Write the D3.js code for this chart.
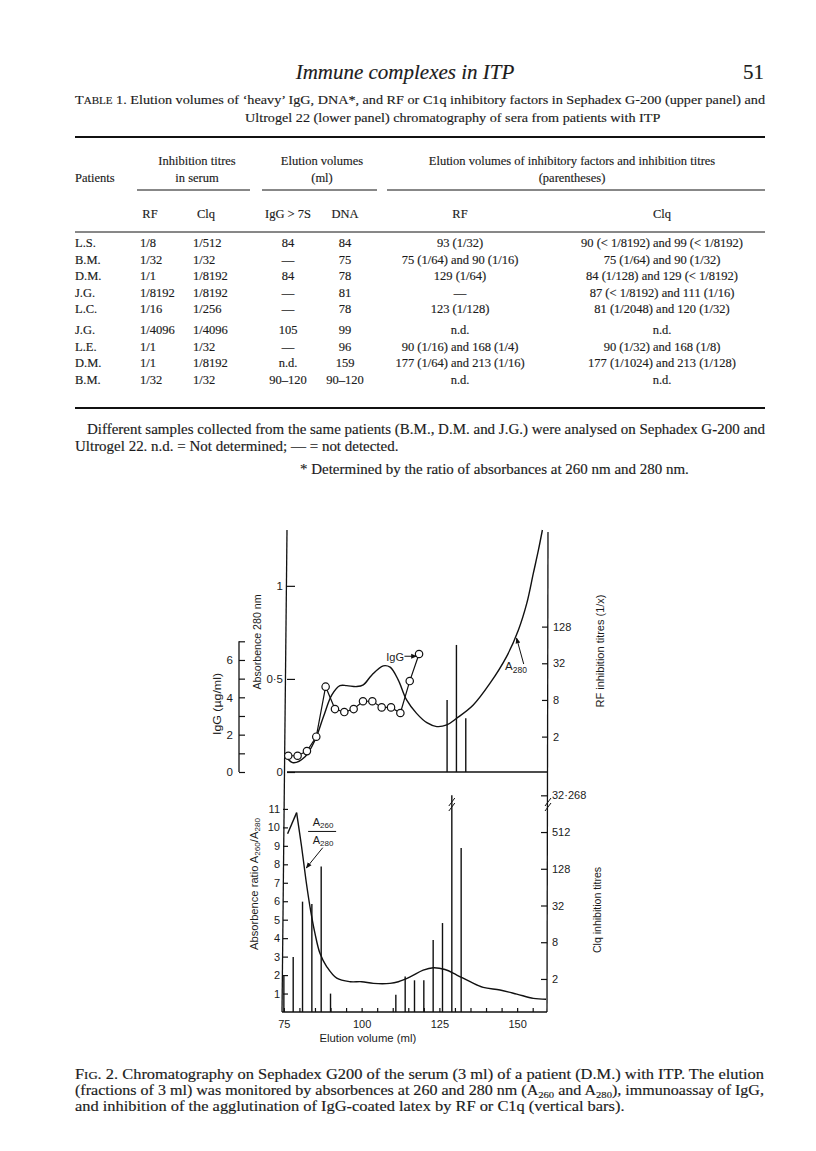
<!DOCTYPE html>
<html>
<head>
<meta charset="utf-8">
<script src="https://cdn.jsdelivr.net/npm/d3@7"></script>
<style>
  body { margin: 0; background: #fff; }
  svg { display: block; }
  .serif { font-family: "Liberation Serif", "Times New Roman", serif; fill: #1b1b1b; stroke: #1b1b1b; stroke-width: 0.15; }
  .fig text { font-family: "Liberation Sans", Arial, sans-serif; fill: #1b1b1b; }
  .fig .domain { display: none; }
  .fig .tick line { stroke: #111; stroke-width: 1.2; }
</style>
</head>
<body>
<svg id="page" width="816" height="1151"></svg>
<script>
// ---- Table 1 ----
const patients   = ["L.S.", "B.M.", "D.M.", "J.G.", "L.C.", "J.G.", "L.E.", "D.M.", "B.M."];
const rfSerum    = ["1/8", "1/32", "1/1", "1/8192", "1/16", "1/4096", "1/1", "1/1", "1/32"];
const clqSerum   = ["1/512", "1/32", "1/8192", "1/8192", "1/256", "1/4096", "1/32", "1/8192", "1/32"];
const iggElution = ["84", "—", "84", "—", "—", "105", "—", "n.d.", "90–120"];
const dnaElution = ["84", "75", "78", "81", "78", "99", "96", "159", "90–120"];
const rfFactors  = ["93 (1/32)", "75 (1/64) and 90 (1/16)", "129 (1/64)", "—", "123 (1/128)",
                    "n.d.", "90 (1/16) and 168 (1/4)", "177 (1/64) and 213 (1/16)", "n.d."];
const clqFactors = ["90 (< 1/8192) and 99 (< 1/8192)", "75 (1/64) and 90 (1/32)", "84 (1/128) and 129 (< 1/8192)",
                    "87 (< 1/8192) and 111 (1/16)", "81 (1/2048) and 120 (1/32)", "n.d.",
                    "90 (1/32) and 168 (1/8)", "177 (1/1024) and 213 (1/128)", "n.d."];

// ---- Fig. 2, upper panel ----
const a280Vol = [74.7, 76.6, 80.4, 83.6, 86.3, 89.0, 91.6, 93.8, 97.0, 99.1, 101.8, 105.5, 107.7, 110.3,
                 113.0, 116.2, 119.5, 122.7, 125.9, 129.1, 134.4, 139.8, 145.1, 148.9, 151.6, 153.7, 155.3, 156.6];
const a280Abs = [0.074, 0.05, 0.082, 0.172, 0.297, 0.414, 0.464, 0.464, 0.459, 0.468, 0.52, 0.57, 0.563, 0.495,
                 0.387, 0.315, 0.265, 0.244, 0.253, 0.289, 0.36, 0.477, 0.62, 0.763, 0.907, 1.068, 1.19, 1.30];
const iggVol  = [75, 78, 81, 84, 87, 90, 93, 96, 99, 102, 105, 108, 111, 114, 117];
const iggConc = [0.87, 0.87, 1.12, 1.89, 4.57, 3.37, 3.21, 3.37, 3.79, 3.79, 3.46, 3.46, 3.16, 4.87, 6.32];
const rfVol   = [126, 129, 132];
const rfTitre = [8, 64, 4];

// ---- Fig. 2, lower panel ----
const ratioVol = [76.2, 79.1, 80.7, 82.1, 83.4, 85.0, 86.6, 88.8, 92.0, 96.3, 100.0, 103.8, 109.1,
                  111.8, 115.6, 119.8, 123.1, 126.8, 130.6, 134.9, 139.1, 144.5, 149.9, 155.2, 159.3];
const ratioVal = [9.66, 10.8, 8.95, 7.15, 5.7, 4.26, 3.18, 2.45, 1.83, 1.64, 1.64, 1.55, 1.55,
                  1.64, 1.9, 2.27, 2.4, 2.3, 2.0, 1.64, 1.33, 1.19, 0.97, 0.74, 0.69];
const clqVol   = [75, 78, 81, 84, 87, 90, 111, 114, 117, 120, 123, 126, 129, 132];
const clqTitre = [2.3, 4.6, 37, 34, 140, 1.15, 1.1, 2.2, 1.9, 1.9, 8.7, 16.5, 32768, 280];

// tick labels
const absTicks   = [0, 0.5, 1];
const iggTicks   = [0, 1, 2, 3, 4, 5, 6, 7];
const rfTicks    = [2, 8, 32, 128];
const ratioTicks = [1, 2, 3, 4, 5, 6, 7, 8, 9, 10, 11];
const clqTicks   = [2, 8, 32, 128, 512, 32768];
const clqLabels  = ["2", "8", "32", "128", "512", "32·268"];
const volTicks   = d3.range(75, 160, 5);

const svg = d3.select("#page");
svg.append("rect").attr("width", 816).attr("height", 1151).attr("fill", "#fff");

// ================= page text =================
const page = svg.append("g").attr("class", "serif");

// the printed face is wider than Times: stretch lines to a width, or by a factor
function stretch(sel, width) {
  const w = sel.node().getComputedTextLength();
  sel.attr("textLength", width).attr("lengthAdjust", "spacingAndGlyphs");
  return width / w;
}
function widen(sel, k) {
  const w = sel.node().getComputedTextLength();
  sel.attr("textLength", w * k).attr("lengthAdjust", "spacingAndGlyphs");
}

page.append("text").attr("x", 405).attr("y", 79).attr("text-anchor", "middle")
  .attr("font-size", 21).attr("font-style", "italic").text("Immune complexes in ITP");
page.append("text").attr("x", 764).attr("y", 79).attr("text-anchor", "end")
  .attr("font-size", 21).text("51");

const tfs = 13.5;
const t1 = page.append("text").attr("x", 75).attr("y", 104).attr("font-size", tfs);
t1.append("tspan").text("T");
t1.append("tspan").attr("font-size", tfs * 0.78).text("ABLE");
t1.append("tspan").text(" 1. Elution volumes of ‘heavy’ IgG, DNA*, and RF or C1q inhibitory factors in Sephadex G-200 (upper panel) and");
const tk = stretch(t1, 690);
widen(page.append("text").attr("x", 245).attr("y", 122).attr("font-size", tfs)
  .text("Ultrogel 22 (lower panel) chromatography of sera from patients with ITP"), tk);

// rules
const rule = (x1, x2, y, w) => page.append("line").attr("x1", x1).attr("x2", x2)
  .attr("y1", y).attr("y2", y).attr("stroke", "#111").attr("stroke-width", w);
rule(75, 765, 137, 1.8);
rule(137, 250, 190, 1);
rule(262, 377, 190, 1);
rule(387, 765, 190, 1);
rule(75, 765, 232, 1);
rule(75, 765, 408, 1.8);

const hdr = (x, y, s, anchor) => page.append("text").attr("x", x).attr("y", y)
  .attr("text-anchor", anchor || "middle").attr("font-size", 12.5).text(s);
hdr(197, 165, "Inhibition titres");
hdr(197, 182, "in serum");
hdr(75, 182, "Patients", "start");
hdr(322, 165, "Elution volumes");
hdr(322, 182, "(ml)");
hdr(572, 165, "Elution volumes of inhibitory factors and inhibition titres");
hdr(572, 182, "(parentheses)");
hdr(150, 218, "RF");
hdr(206, 218, "Clq");
hdr(288, 218, "IgG > 7S");
hdr(345, 218, "DNA");
hdr(460, 218, "RF");
hdr(662, 218, "Clq");

const cols = [
  { vals: patients,   x: 75,  anchor: "start" },
  { vals: rfSerum,    x: 140, anchor: "start" },
  { vals: clqSerum,   x: 193, anchor: "start" },
  { vals: iggElution, x: 288, anchor: "middle" },
  { vals: dnaElution, x: 345, anchor: "middle" },
  { vals: rfFactors,  x: 460, anchor: "middle" },
  { vals: clqFactors, x: 662, anchor: "middle" }
];
const rowY = i => 247 + i * 16.5 + (i >= 5 ? 4.5 : 0);
cols.forEach(c => {
  page.append("g").selectAll("text").data(c.vals).join("text")
    .attr("x", c.x).attr("y", (d, i) => rowY(i))
    .attr("text-anchor", c.anchor).attr("font-size", 12.5).text(d => d);
});

const nfs = 14;
const nk = stretch(page.append("text").attr("x", 87).attr("y", 434).attr("font-size", nfs)
  .text("Different samples collected from the same patients (B.M., D.M. and J.G.) were analysed on Sephadex G-200 and"), 678);
widen(page.append("text").attr("x", 75).attr("y", 451).attr("font-size", nfs)
  .text("Ultrogel 22. n.d. = Not determined; — = not detected."), nk);
widen(page.append("text").attr("x", 300).attr("y", 474).attr("font-size", nfs)
  .text("* Determined by the ratio of absorbances at 260 nm and 280 nm."), nk);

// caption
const cfs = 14;
const c1 = page.append("text").attr("x", 75).attr("y", 1079).attr("font-size", cfs);
c1.append("tspan").text("F");
c1.append("tspan").attr("font-size", cfs * 0.78).text("IG");
c1.append("tspan").text(". 2. Chromatography on Sephadex G200 of the serum (3 ml) of a patient (D.M.) with ITP. The elution");
const ck = stretch(c1, 689);
const c2 = page.append("text").attr("x", 75).attr("y", 1095).attr("font-size", cfs);
c2.append("tspan").text("(fractions of 3 ml) was monitored by absorbences at 260 and 280 nm (A");
c2.append("tspan").attr("font-size", cfs * 0.66).attr("dy", 2.5).text("260");
c2.append("tspan").attr("dy", -2.5).text(" and A");
c2.append("tspan").attr("font-size", cfs * 0.66).attr("dy", 2.5).text("280");
c2.append("tspan").attr("dy", -2.5).text("), immunoassay of IgG,");
stretch(c2, 689);
widen(page.append("text").attr("x", 75).attr("y", 1111).attr("font-size", cfs)
  .text("and inhibition of the agglutination of IgG-coated latex by RF or C1q (vertical bars)."), ck);

// ================= figure =================
const fig = svg.append("g").attr("class", "fig");

const xTop  = d3.scaleLinear().domain([74.6, 158.4]).range([287, 548]);
const xBot  = d3.scaleLinear().domain([74.4, 159.6]).range([282, 547]);
const yAbs  = d3.scaleLinear().domain([0, 1.3]).range([772, 530]);
const yIgG  = d3.scaleLinear().domain([0, 7]).range([772, 641.3]);
const yRF   = d3.scaleLog().base(2).domain([Math.pow(2, -0.93), Math.pow(2, 12.27)]).range([772, 530]);
const yRat  = d3.scaleLinear().domain([0, 13]).range([1012, 772]);
const yClq  = d3.scaleLog().base(2).domain([Math.pow(2, -0.8), Math.pow(2, 12.27)]).range([1012, 772]);
const clqPos = v => v > 8192 ? 2048 : v;   // axis is broken above 512
const breakAt = Math.pow(2, 10.5);

const ink = "#111";
const seg = (x1, y1, x2, y2, w) => fig.append("line").attr("x1", x1).attr("y1", y1)
  .attr("x2", x2).attr("y2", y2).attr("stroke", ink).attr("stroke-width", w || 1.3);

// frame lines
seg(xTop.range()[0], yAbs.range()[1], xBot.range()[0], yRat.range()[0]);
seg(xTop.range()[1], yAbs.range()[1] + 2, xBot.range()[1], yRat.range()[0]);
seg(xTop.range()[0], yAbs(0), xTop.range()[1], yAbs(0));
seg(xBot.range()[0], yRat(0), xBot.range()[1], yRat(0));
seg(239, yIgG(0), 239, yIgG(7));

// axes
fig.append("g").attr("transform", `translate(${xTop.range()[0]},0)`)
  .call(d3.axisLeft(yAbs).tickValues(absTicks).tickSize(-8).tickPadding(4)
    .tickFormat(d => d === 0.5 ? "0·5" : d))
  .call(g => g.selectAll("text").attr("font-size", 11.5));

fig.append("g").attr("transform", "translate(239,0)")
  .call(d3.axisLeft(yIgG).tickValues(iggTicks).tickSize(-6).tickPadding(6)
    .tickFormat(d => d % 2 === 0 && d < 7 ? d : ""))
  .call(g => g.selectAll("text").attr("font-size", 11.5));

fig.append("g").attr("transform", `translate(${xTop.range()[1]},0)`)
  .call(d3.axisRight(yRF).tickValues(rfTicks).tickSize(-6).tickPadding(5).tickFormat(d => d))
  .call(g => g.selectAll("text").attr("font-size", 11));

fig.append("g").attr("transform", `translate(${xBot.range()[0] + 1},0)`)
  .call(d3.axisLeft(yRat).tickValues(ratioTicks).tickSize(-5).tickPadding(3))
  .call(g => g.selectAll("text").attr("font-size", 11));

fig.append("g").attr("transform", `translate(${xBot.range()[1]},0)`)
  .call(d3.axisRight(yClq).tickValues(clqTicks.map(clqPos)).tickSize(-6).tickPadding(5)
    .tickFormat((d, i) => clqLabels[i]))
  .call(g => g.selectAll("text").attr("font-size", 11));

fig.append("g").attr("transform", `translate(0,${yRat(0)})`)
  .call(d3.axisBottom(xBot).tickValues(volTicks).tickSize(-4).tickPadding(8)
    .tickFormat(d => d % 25 === 0 ? d : ""))
  .call(g => g.selectAll("text").attr("font-size", 11));

// axis break marks
const brk = (x, y) => {
  [-2.5, 2.5].forEach(o => seg(x - 3, y + o + 4, x + 3, y + o - 4, 1));
};
brk(xBot.range()[1] + 1, yClq(breakAt));
brk(xBot(129), yClq(breakAt));

// axis titles
const vtitle = (x, y, len) => fig.append("text")
  .attr("transform", `translate(${x},${y}) rotate(-90)`).attr("text-anchor", "middle")
  .attr("font-size", 11).attr("textLength", len).attr("lengthAdjust", "spacingAndGlyphs");
vtitle(221, 704, 62).text("IgG (µg/ml)");
vtitle(261, 642, 95).text("Absorbence 280 nm");
vtitle(604, 651, 113).text("RF inhibition titres (1/x)");
vtitle(601, 910, 86).text("Clq inhibition titres");
const rt = vtitle(258, 884, 132);
rt.append("tspan").text("Absorbence ratio A");
rt.append("tspan").attr("font-size", 8).attr("dy", 2).text("260");
rt.append("tspan").attr("dy", -2).text("/A");
rt.append("tspan").attr("font-size", 8).attr("dy", 2).text("280");
fig.append("text").attr("x", xBot(102)).attr("y", 1042).attr("text-anchor", "middle")
  .attr("font-size", 11.3).text("Elution volume (ml)");

// bars
fig.append("g").selectAll("line").data(rfVol).join("line")
  .attr("x1", d => xTop(d)).attr("x2", d => xTop(d))
  .attr("y1", yAbs(0)).attr("y2", (d, i) => yRF(rfTitre[i]))
  .attr("stroke", ink).attr("stroke-width", 1.4);
fig.append("g").selectAll("line").data(clqVol).join("line")
  .attr("x1", d => xBot(d)).attr("x2", d => xBot(d))
  .attr("y1", yRat(0)).attr("y2", (d, i) => yClq(clqPos(clqTitre[i])))
  .attr("stroke", ink).attr("stroke-width", 1.4);

// curves
fig.append("path")
  .datum(a280Vol.map((v, i) => [v, a280Abs[i]]))
  .attr("d", d3.line().x(d => xTop(d[0])).y(d => yAbs(d[1])).curve(d3.curveCatmullRom))
  .attr("fill", "none").attr("stroke", ink).attr("stroke-width", 1.4);

fig.append("path")
  .datum(iggVol.map((v, i) => [v, iggConc[i]]))
  .attr("d", d3.line().x(d => xTop(d[0])).y(d => yIgG(d[1])))
  .attr("fill", "none").attr("stroke", ink).attr("stroke-width", 1.2);
fig.append("g").selectAll("circle").data(iggVol).join("circle")
  .attr("cx", d => xTop(d)).attr("cy", (d, i) => yIgG(iggConc[i])).attr("r", 3.7)
  .attr("fill", "#fff").attr("stroke", ink).attr("stroke-width", 1.2);

const ratioPts = ratioVol.map((v, i) => [v, ratioVal[i]]);
fig.append("path")
  .datum(ratioPts.slice(0, 2))
  .attr("d", d3.line().x(d => xBot(d[0])).y(d => yRat(d[1])))
  .attr("fill", "none").attr("stroke", ink).attr("stroke-width", 1.4);
fig.append("path")
  .datum(ratioPts.slice(1))
  .attr("d", d3.line().x(d => xBot(d[0])).y(d => yRat(d[1])).curve(d3.curveCatmullRom))
  .attr("fill", "none").attr("stroke", ink).attr("stroke-width", 1.4);

// annotations
svg.append("defs").append("marker").attr("id", "arr").attr("viewBox", "0 0 10 10")
  .attr("refX", 9).attr("refY", 5).attr("markerWidth", 6).attr("markerHeight", 6)
  .attr("orient", "auto").append("path").attr("d", "M0,1L10,5L0,9Z").attr("fill", ink);

fig.append("text").attr("x", xTop(109.3)).attr("y", yIgG(5.95)).attr("text-anchor", "middle")
  .attr("font-size", 11).text("IgG");
fig.append("line").attr("x1", xTop(112.3)).attr("y1", yIgG(6.2)).attr("x2", xTop(116.2)).attr("y2", yIgG(6.2))
  .attr("stroke", ink).attr("stroke-width", 1).attr("marker-end", "url(#arr)");

const aLab = fig.append("text").attr("x", xTop(144.6)).attr("y", yAbs(0.55)).attr("font-size", 11.5);
aLab.append("tspan").text("A");
aLab.append("tspan").attr("font-size", 8.5).attr("dy", 3).text("280");
fig.append("line").attr("x1", xTop(150.6)).attr("y1", yAbs(0.58)).attr("x2", xTop(148.3)).attr("y2", yAbs(0.72))
  .attr("stroke", ink).attr("stroke-width", 1).attr("marker-end", "url(#arr)");

const fA = fig.append("text").attr("x", xBot(87.6)).attr("y", yRat(10.1)).attr("text-anchor", "middle").attr("font-size", 11);
fA.append("tspan").text("A");
fA.append("tspan").attr("font-size", 8).attr("dy", 2).text("260");
seg(xBot(82.8), yRat(9.78), xBot(91.8), yRat(9.78), 1);
const fB = fig.append("text").attr("x", xBot(87.6)).attr("y", yRat(9.1)).attr("text-anchor", "middle").attr("font-size", 11);
fB.append("tspan").text("A");
fB.append("tspan").attr("font-size", 8).attr("dy", 2).text("280");
fig.append("line").attr("x1", xBot(87.5)).attr("y1", yRat(8.9)).attr("x2", xBot(82.2)).attr("y2", yRat(7.8))
  .attr("stroke", ink).attr("stroke-width", 1).attr("marker-end", "url(#arr)");
</script>
</body>
</html>
